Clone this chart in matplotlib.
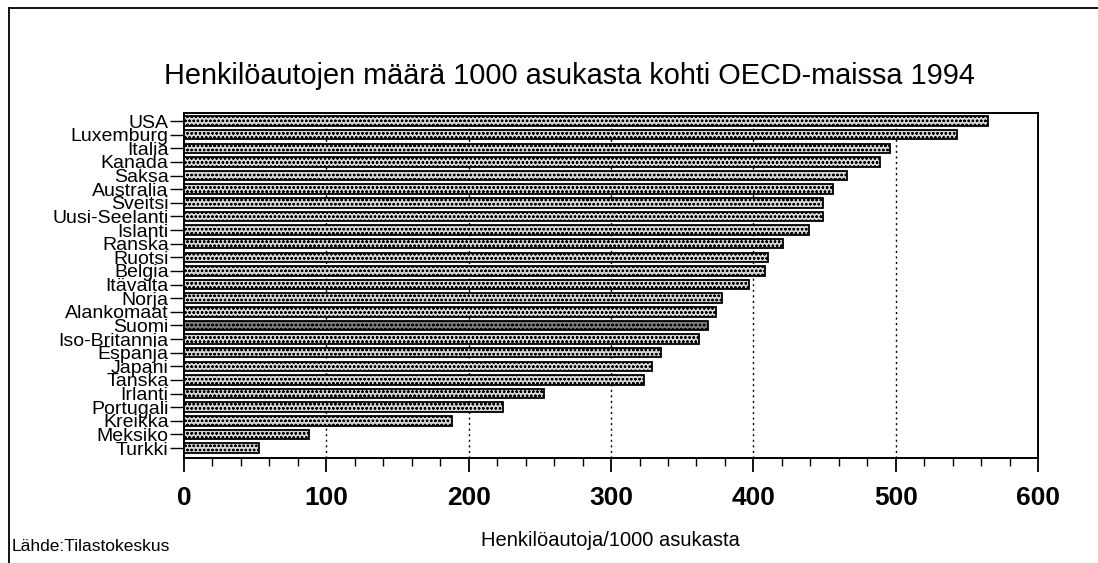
import numpy as np
import matplotlib.pyplot as plt
from matplotlib.ticker import MultipleLocator
from matplotlib.lines import Line2D

# Henkilöautot / 1000 asukasta, OECD 1994
maat = ['USA', 'Luxemburg', 'Italia', 'Kanada', 'Saksa', 'Australia', 'Sveitsi',
        'Uusi-Seelanti', 'Islanti', 'Ranska', 'Ruotsi', 'Belgia', 'Itävalta',
        'Norja', 'Alankomaat', 'Suomi', 'Iso-Britannia', 'Espanja', 'Japani',
        'Tanska', 'Irlanti', 'Portugali', 'Kreikka', 'Meksiko', 'Turkki']
autoja = [565, 543, 496, 489, 466, 456, 449, 449, 439, 421, 410, 408, 397,
          378, 374, 368, 362, 335, 329, 323, 253, 224, 188, 88, 53]
korostettu = 'Suomi'
x_ticks = [0, 100, 200, 300, 400, 500, 600]

plt.rcParams['font.family'] = ['Liberation Sans', 'DejaVu Sans']
plt.rcParams['hatch.linewidth'] = 0.6

fig = plt.figure(figsize=(10.98, 5.63), dpi=100)
ax = fig.add_axes([0.1676, 0.1865, 0.7778, 0.6128])

y = np.arange(len(maat))
colors = ['#7c7c7c' if m == korostettu else '#d6d6d6' for m in maat]
ax.barh(y, autoja, height=0.7, color=colors, edgecolor='black',
        linewidth=1.3, hatch='oooo', zorder=3)

ax.set_xlim(0, 600)
ax.set_ylim(len(maat) - 1 + 0.73, -0.59)
ax.set_yticks(y)
ax.set_yticklabels(maat, fontsize=14)
ax.tick_params(axis='y', direction='out', length=10, width=1, pad=1)

ax.set_xticks(x_ticks)
ax.set_xticklabels([str(t) for t in x_ticks], fontsize=19, fontweight='bold')
ax.xaxis.set_minor_locator(MultipleLocator(20))
ax.tick_params(axis='x', which='major', direction='out', length=10, width=1.3, pad=10)
ax.tick_params(axis='x', which='minor', direction='out', length=6, width=1)

for v in x_ticks[1:-1]:
    ax.axvline(v, color='black', linestyle=(0, (1.5, 2.5)), linewidth=1, zorder=1)

for s in ax.spines.values():
    s.set_linewidth(1.4)

fig.suptitle('Henkilöautojen määrä 1000 asukasta kohti OECD-maissa 1994',
             x=0.519, y=0.89, fontsize=20.8)
fig.text(0.556, 0.04, 'Henkilöautoja/1000 asukasta', ha='center', va='center',
         fontsize=14.5)
fig.text(0.011, 0.03, 'Lähde:Tilastokeskus', ha='left', va='center',
         fontsize=12.5)

# kehys kuvan ympärillä
fig.add_artist(Line2D([0.008, 0.008], [0.0, 0.986], transform=fig.transFigure,
                      color='black', linewidth=1.3))
fig.add_artist(Line2D([0.008, 1.0], [0.986, 0.986], transform=fig.transFigure,
                      color='black', linewidth=1.3))

fig.savefig('out.png', dpi=100)
